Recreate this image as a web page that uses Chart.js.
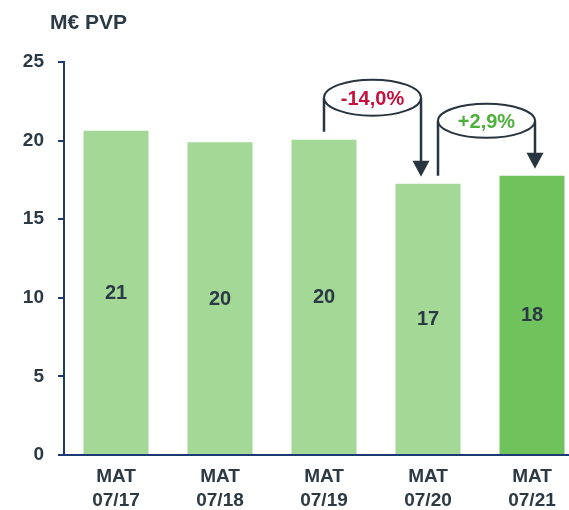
<!DOCTYPE html>
<html>
<head>
<meta charset="utf-8">
<script src="https://cdn.jsdelivr.net/npm/chart.js@4"></script>
<style>
  html, body { margin: 0; padding: 0; background: #fff; overflow: hidden; }
  #wrap { width: 590px; height: 510px; position: relative; }
</style>
</head>
<body>
<div id="wrap"><canvas id="chart"></canvas></div>
<script>
// sales per moving annual total, millions of euros at retail price
const categories = [['MAT', '07/17'], ['MAT', '07/18'], ['MAT', '07/19'], ['MAT', '07/20'], ['MAT', '07/21']];
const salesValues = [20.63, 19.89, 20.06, 17.26, 17.76];
const yTicks = [0, 5, 10, 15, 20, 25];
const unitLabel = 'M€ PVP';
// pairs of bars joined by a change bubble
const changePairs = [[2, 3], [3, 4]];

const FONT = "'Liberation Sans', Arial, sans-serif";
const TEXT = '#2b3944';
const AXIS = '#1c3a74';
const LINE = '#28343f';
const LIGHT_GREEN = '#a3d897';
const DARK_GREEN = '#70c25c';
const barColors = salesValues.map((v, i) => i === salesValues.length - 1 ? DARK_GREEN : LIGHT_GREEN);

// bubble look, one entry per pair
const bubbleStyle = [
  { dxFrom: 0, dxTo: -7, lift: 42, ry: 18, color: '#c8103c' },
  { dxFrom: 10, dxTo: 3, lift: 55, ry: 17, color: '#4cb13a' }
];

const fmtPct = v => (v > 0 ? '+' : '') + v.toFixed(1).replace('.', ',') + '%';

const overlayPlugin = {
  id: 'overlay',
  afterDatasetsDraw(chart) {
    const ctx = chart.ctx;
    const meta = chart.getDatasetMeta(0);
    ctx.save();

    // value in the middle of each bar
    ctx.font = 'bold 20px ' + FONT;
    ctx.fillStyle = TEXT;
    ctx.textAlign = 'center';
    ctx.textBaseline = 'middle';
    meta.data.forEach((bar, i) => {
      ctx.fillText(String(Math.round(salesValues[i])), bar.x, (bar.y + bar.base) / 2 + 1);
    });

    // unit caption above the y axis
    ctx.textAlign = 'left';
    ctx.textBaseline = 'alphabetic';
    ctx.font = 'bold 21px ' + FONT;
    ctx.fillText(unitLabel, 50, 29);

    // change bubbles with arrows
    changePairs.forEach(([a, b], k) => {
      const st = bubbleStyle[k];
      const A = meta.data[a], B = meta.data[b];
      const x1 = A.x + st.dxFrom;
      const x2 = B.x + st.dxTo;
      const yc = Math.min(A.y, B.y) - st.lift;
      const cx = (x1 + x2) / 2;
      const rx = (x2 - x1) / 2;
      const tipY = B.y - 7;

      ctx.strokeStyle = LINE;
      ctx.lineWidth = 2.5;
      ctx.beginPath();
      ctx.moveTo(x1, A.y - 8);
      ctx.lineTo(x1, yc);
      ctx.moveTo(x2, yc);
      ctx.lineTo(x2, tipY - 12);
      ctx.stroke();

      ctx.fillStyle = LINE;
      ctx.beginPath();
      ctx.moveTo(x2 - 8.5, tipY - 16);
      ctx.lineTo(x2 + 8.5, tipY - 16);
      ctx.lineTo(x2, tipY);
      ctx.closePath();
      ctx.fill();

      ctx.beginPath();
      ctx.ellipse(cx, yc, rx, st.ry, 0, 0, Math.PI * 2);
      ctx.fillStyle = '#fff';
      ctx.fill();
      ctx.lineWidth = 2;
      ctx.stroke();

      const pct = (salesValues[b] / salesValues[a] - 1) * 100;
      ctx.fillStyle = st.color;
      ctx.font = 'bold 20px ' + FONT;
      ctx.textAlign = 'center';
      ctx.textBaseline = 'middle';
      ctx.fillText(fmtPct(pct), cx, yc + 2);
    });

    ctx.restore();
  }
};

new Chart(document.getElementById('chart'), {
  type: 'bar',
  data: {
    labels: categories,
    datasets: [{
      data: salesValues,
      backgroundColor: barColors,
      borderWidth: 0,
      barPercentage: 0.625,
      categoryPercentage: 1
    }]
  },
  options: {
    responsive: true,
    maintainAspectRatio: false,
    animation: false,
    layout: { padding: { top: 62, right: 6, left: 0, bottom: 0 } },
    plugins: {
      legend: { display: false },
      tooltip: { enabled: false }
    },
    scales: {
      x: {
        grid: { display: true, drawOnChartArea: false, drawTicks: false },
        border: { display: true, color: AXIS, width: 2 },
        ticks: {
          color: TEXT,
          font: { family: FONT, size: 19, weight: 'bold', lineHeight: 1.3 },
          padding: 9,
          maxRotation: 0
        },
        afterFit(scale) { scale.height = 55; }
      },
      y: {
        min: 0,
        max: yTicks[yTicks.length - 1],
        afterBuildTicks(scale) { scale.ticks = yTicks.map(v => ({ value: v })); },
        grid: { display: true, drawOnChartArea: false, drawTicks: true, tickLength: 6, color: AXIS, lineWidth: 2 },
        border: { display: true, color: AXIS, width: 2 },
        ticks: {
          color: TEXT,
          font: { family: FONT, size: 19, weight: 'bold' },
          padding: 14
        },
        afterFit(scale) { scale.width = 64; }
      }
    }
  },
  plugins: [overlayPlugin]
});
</script>
</body>
</html>
